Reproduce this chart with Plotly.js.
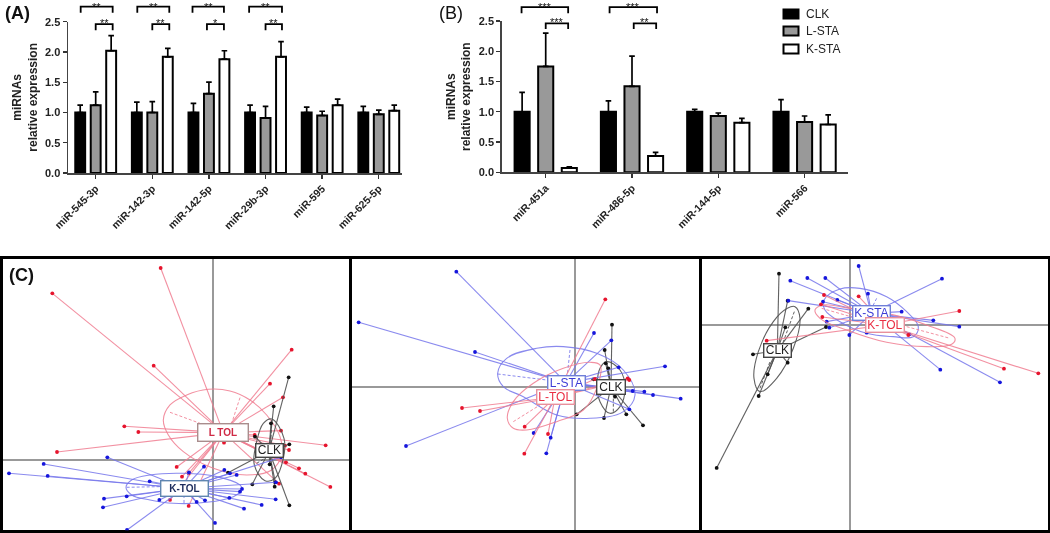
<!DOCTYPE html>
<html>
<head>
<meta charset="utf-8">
<script src="https://cdn.plot.ly/plotly-3.0.1.min.js"></script>
<style>html,body{margin:0;padding:0;background:#fff}#chart{width:1050px;height:533px;filter:blur(0.45px)}</style>
</head>
<body>
<div id="chart"></div>
<script>
// ---------- Panels A and B: relative expression ----------
const groupNames = ['CLK', 'L-STA', 'K-STA'];
const aCategories = ['miR-545-3p', 'miR-142-3p', 'miR-142-5p', 'miR-29b-3p', 'miR-595', 'miR-625-5p'];
const aClk = [1.0, 1.0, 1.0, 1.0, 1.0, 1.0];
const aClkErr = [0.12, 0.17, 0.15, 0.12, 0.09, 0.10];
const aLsta = [1.12, 1.0, 1.31, 0.91, 0.95, 0.97];
const aLstaErr = [0.22, 0.18, 0.19, 0.19, 0.07, 0.07];
const aKsta = [2.02, 1.92, 1.88, 1.92, 1.12, 1.03];
const aKstaErr = [0.25, 0.14, 0.14, 0.25, 0.10, 0.09];

const bCategories = ['miR-451a', 'miR-486-5p', 'miR-144-5p', 'miR-566'];
const bClk = [1.0, 1.0, 1.0, 1.0];
const bClkErr = [0.32, 0.18, 0.04, 0.20];
const bLsta = [1.75, 1.42, 0.93, 0.83];
const bLstaErr = [0.55, 0.50, 0.05, 0.10];
const bKsta = [0.07, 0.27, 0.82, 0.79];
const bKstaErr = [0.02, 0.06, 0.07, 0.16];

// significance brackets: [from, to] in category units, height in expression units
const aUpperStart = [-0.265, -0.265, -0.29, -0.29];
const aUpperEnd = [0.30, 0.30, 0.265, 0.29];
const aLowerStart = [0, 0, -0.035, 0];
const aLowerEnd = [0.30, 0.30, 0.265, 0.29];
const aUpperStars = ['**', '**', '**', '**'];
const aLowerStars = ['**', '**', '*', '**'];
const bUpperStart = [-0.28, -0.26];
const bUpperEnd = [0.26, 0.29];
const bLowerStart = [0, 0.02];
const bLowerEnd = [0.26, 0.28];
const bUpperStars = ['***', '***'];
const bLowerStars = ['***', '**'];

// ---------- Panel C: score plots (first two axes, arbitrary units) ----------
// left plot
const c1RedX = [-158,-483,-179,-267,-225,-469,235,170,209,203,124,32,337,227,215,218,257,276,351,197,-110,-94,-74,-130,-74];
const c1RedY = [575,499,282,100,83,23,330,228,187,87,74,51,43,29,42,-8,-26,-42,-82,-72,-22,-51,-41,-121,-139];
const c1RedMean = [30, 81];
const c1BlueX = [-318,-509,-613,-497,-191,-328,-260,-331,-162,-259,-73,-28,33,50,70,80,86,48,187,145,92,5,-50,-25,188,203];
const c1BlueY = [7,-13,-41,-49,-65,-117,-110,-143,-121,-211,-38,-21,-31,-41,-46,-96,-88,-115,-119,-136,-147,-190,-127,-122,-68,7];
const c1BlueMean = [-88, -86];
const c1BlackX = [226,181,173,125,228,44,117,184,228,186,169];
const c1BlackY = [247,160,109,69,46,-39,-74,-81,-137,-68,-14];
const c1BlackMean = [167, 26];
const c1RedRingX = [-150,-130,-80,-15,50,110,160,200,205,175,100,0,-90,-135,-150];
const c1RedRingY = [119,164,194,211,206,179,134,69,14,-31,-46,-26,24,74,119];
const c1BlueRingX = [-262,-245,-190,-90,10,80,86,60,-20,-120,-190,-245,-262];
const c1BlueRingY = [-83,-61,-46,-41,-51,-76,-91,-111,-128,-131,-121,-106,-83];
const c1BlackRingX = [175,212,210,185,155,123,130,150,175];
const c1BlackRingY = [122,64,4,-56,-63,-16,54,109,122];
const c1RedAxisX = [-130,-40,null,80,55];
const c1RedAxisY = [142,109,null,186,109];
const c1BlueAxisX = [-260,-160,null,-88,-88];
const c1BlueAxisY = [-83,-81,null,-106,-131];
const c1BlackAxisX = [175,172,null,130,155];
const c1BlackAxisY = [119,39,null,-11,4];

// middle plot
const c2BlueX = [-357,-650,-301,-508,56,108,130,269,-125,-74,-87,316,233,207,172,162];
const c2BlueY = [346,194,105,-177,162,140,59,62,-138,-152,-199,-35,-24,-14,-12,-67];
const c2BlueMean = [-28, 13];
const c2RedX = [90,-340,-286,-152,-82,-153,157,162,59];
const c2RedY = [263,-63,-72,-119,-141,-200,26,21,24];
const c2RedMean = [-61, -31];
const c2BlackX = [110,88,91,99,54,4,86,153,203,119];
const c2BlackY = [187,111,71,56,23,-82,-93,-82,-115,-29];
const c2BlackMean = [107, 0];
const c2BlueRingX = [-233,-206,-116,-36,64,144,179,144,44,-56,-156,-216,-233];
const c2BlueRingY = [41,86,116,121,101,51,-24,-74,-94,-84,-29,1,41];
const c2RedRingX = [74,44,-36,-126,-186,-204,-186,-146,-56,24,64,74];
const c2RedRingY = [66,74,56,11,-44,-94,-124,-129,-104,-69,-4,66];
const c2BlackRingX = [94,134,149,134,104,74,66,74,94];
const c2BlackRingY = [76,51,-4,-59,-79,-44,6,56,76];
const c2BlueAxisX = [-233,-86,null,-16,-24];
const c2BlueAxisY = [39,21,null,111,36];
const c2RedAxisX = [-186,-106];
const c2RedAxisY = [-104,-54];
const c2BlackAxisX = [94,104,null,114,114];
const c2BlackAxisY = [71,21,null,-74,-24];

// right plot
const c3BlueX = [26,-128,-74,-179,276,54,-38,-185,-81,155,250,328,-70,-62,-2,50,178,271,450];
const c3BlueY = [176,140,140,132,138,93,74,72,69,39,13,-6,9,-9,-31,-24,-29,-135,-173];
const c3BlueMean = [64, 34];
const c3RedX = [26,-78,-87,-83,328,462,565,-250,175];
const c3RedY = [85,89,61,23,41,-132,-146,-48,-31];
const c3RedMean = [105, -1];
const c3BlackX = [-213,-187,-125,-194,-72,-291,-187,-247,-274,-400];
const c3BlackY = [153,72,48,-8,-7,-89,-114,-149,-214,-430];
const c3BlackMean = [-218, -77];
const c3BlueRingX = [-78,-30,30,110,170,205,190,130,50,-30,-75,-78];
const c3BlueRingY = [74,107,109,84,39,-6,-36,-36,-26,9,44,74];
const c3RedRingX = [-105,-80,0,110,230,315,305,230,110,-10,-90,-105];
const c3RedRingY = [44,59,49,34,-1,-41,-59,-66,-53,-16,19,44];
const c3BlackRingX = [-165,-150,-170,-220,-270,-288,-275,-230,-188,-165];
const c3BlackRingY = [54,19,-71,-161,-201,-161,-81,9,49,54];
const c3BlueAxisX = [80,70];
const c3BlueAxisY = [79,59];
const c3RedAxisX = [170,300,null,-85,20];
const c3RedAxisY = [-6,-41,null,49,19];
const c3BlackAxisX = [-167,-200,null,-270,-240];
const c3BlackAxisY = [39,-51,null,-191,-111];

// ---------- Styling ----------
const W = 1050, H = 533;
const SANS = 'Liberation Sans, Arial, sans-serif';
const FILL = ['#000000', '#999999', '#ffffff'];
const LINE = {red: 'rgba(240,125,145,0.85)', blue: 'rgba(118,118,235,0.85)', black: 'rgba(80,80,80,0.9)'};
const DOT = {red: '#e6142d', blue: '#1616dc', black: '#111111'};
const BOX = {red: '#e8909c', blue: '#6f7fd8', black: '#444444', navy: '#5f86b0', brown: '#a98d8d'};
const INK = {red: '#ea2f44', blue: '#3c3cd6', black: '#222222', navy: '#1c2c5c', crimson: '#cf2a45'};

const domX = (a, b) => [a / W, b / W];
const domY = (top, bottom) => [1 - bottom / H, 1 - top / H];

const traces = [];
const annotations = [];
const shapes = [];

function barGroup(cats, series, errs, xa, ya) {
  series.forEach((vals, i) => {
    traces.push({
      type: 'bar', name: groupNames[i], showlegend: false,
      x: cats.map((_, k) => k), y: vals, xaxis: xa, yaxis: ya,
      marker: {color: FILL[i], line: {color: '#000', width: 2}},
      error_y: {type: 'data', symmetric: false, array: errs[i], arrayminus: cats.map(() => 0), color: '#000', thickness: 1.7, width: 2.8},
      hoverinfo: 'skip'
    });
  });
}
function brackets(starts, ends, top, leg, stars, xa, ya, starLift) {
  const xs = [], ys = [];
  starts.forEach((s, i) => {
    xs.push(i + s, i + s, i + ends[i], i + ends[i], null);
    ys.push(leg, top, top, leg, null);
    annotations.push({
      xref: xa, yref: ya, x: i + (s + ends[i]) / 2, y: top, yshift: starLift, showarrow: false, borderpad: 0,
      text: stars[i], font: {family: SANS, size: 11, color: '#111'}, xanchor: 'center', yanchor: 'middle'
    });
  });
  traces.push({
    type: 'scatter', mode: 'lines', x: xs, y: ys, xaxis: xa, yaxis: ya,
    showlegend: false, hoverinfo: 'skip', line: {color: '#000', width: 1.8}
  });
}
function spokes(xs, ys, mean) {
  const ox = [], oy = [];
  xs.forEach((v, i) => { ox.push(mean[0], v, null); oy.push(mean[1], ys[i], null); });
  return [ox, oy];
}
function cloud(xs, ys, mean, ringX, ringY, dashX, dashY, tone, xa, ya) {
  const plain = {type: 'scatter', xaxis: xa, yaxis: ya, showlegend: false, hoverinfo: 'skip'};
  traces.push(Object.assign({}, plain, {mode: 'lines', x: ringX, y: ringY, line: {color: LINE[tone], width: 1.1, shape: 'spline', smoothing: 1.1}}));
  traces.push(Object.assign({}, plain, {mode: 'lines', x: dashX, y: dashY, line: {color: LINE[tone], width: 1, dash: '3px,2px'}}));
  const [sx, sy] = spokes(xs, ys, mean);
  traces.push(Object.assign({}, plain, {mode: 'lines', x: sx, y: sy, line: {color: LINE[tone], width: 1.1}}));
  traces.push(Object.assign({}, plain, {mode: 'markers', x: xs, y: ys, marker: {color: DOT[tone], size: 3.8}}));
}
function tag(text, xa, ya, mean, w, h, ink, box, size, bold) {
  annotations.push({
    xref: xa, yref: ya, x: mean[0], y: mean[1], showarrow: false, text: bold ? '<b>' + text + '</b>' : text,
    width: w, height: h, bgcolor: '#ffffff', bordercolor: box, borderwidth: 1.4, borderpad: 0,
    font: {family: SANS, size: size, color: ink}, align: 'center', valign: 'middle'
  });
}

barGroup(aCategories, [aClk, aLsta, aKsta], [aClkErr, aLstaErr, aKstaErr], 'x', 'y');
barGroup(bCategories, [bClk, bLsta, bKsta], [bClkErr, bLstaErr, bKstaErr], 'x2', 'y2');
// brackets sit on hidden axes with the same scale as the bars, reaching above the 2.5 tick
brackets(aUpperStart, aUpperEnd, 2.75, 2.65, aUpperStars, 'x', 'y6', 0);
brackets(aLowerStart, aLowerEnd, 2.46, 2.36, aLowerStars, 'x', 'y6', 1);
brackets(bUpperStart, bUpperEnd, 2.73, 2.63, bUpperStars, 'x2', 'y7', 0);
brackets(bLowerStart, bLowerEnd, 2.46, 2.37, bLowerStars, 'x2', 'y7', 1);

cloud(c1RedX, c1RedY, c1RedMean, c1RedRingX, c1RedRingY, c1RedAxisX, c1RedAxisY, 'red', 'x3', 'y3');
cloud(c1BlackX, c1BlackY, c1BlackMean, c1BlackRingX, c1BlackRingY, c1BlackAxisX, c1BlackAxisY, 'black', 'x3', 'y3');
cloud(c1BlueX, c1BlueY, c1BlueMean, c1BlueRingX, c1BlueRingY, c1BlueAxisX, c1BlueAxisY, 'blue', 'x3', 'y3');
cloud(c2BlackX, c2BlackY, c2BlackMean, c2BlackRingX, c2BlackRingY, c2BlackAxisX, c2BlackAxisY, 'black', 'x4', 'y4');
cloud(c2BlueX, c2BlueY, c2BlueMean, c2BlueRingX, c2BlueRingY, c2BlueAxisX, c2BlueAxisY, 'blue', 'x4', 'y4');
cloud(c2RedX, c2RedY, c2RedMean, c2RedRingX, c2RedRingY, c2RedAxisX, c2RedAxisY, 'red', 'x4', 'y4');
cloud(c3BlackX, c3BlackY, c3BlackMean, c3BlackRingX, c3BlackRingY, c3BlackAxisX, c3BlackAxisY, 'black', 'x5', 'y5');
cloud(c3BlueX, c3BlueY, c3BlueMean, c3BlueRingX, c3BlueRingY, c3BlueAxisX, c3BlueAxisY, 'blue', 'x5', 'y5');
cloud(c3RedX, c3RedY, c3RedMean, c3RedRingX, c3RedRingY, c3RedAxisX, c3RedAxisY, 'red', 'x5', 'y5');

tag('L TOL', 'x3', 'y3', c1RedMean, 49, 16, INK.crimson, BOX.brown, 10, true);
tag('K-TOL', 'x3', 'y3', c1BlueMean, 46, 14, INK.navy, BOX.navy, 10, true);
tag('CLK', 'x3', 'y3', c1BlackMean, 26, 12, INK.black, BOX.black, 12, false);
tag('L-STA', 'x4', 'y4', c2BlueMean, 36, 13, INK.blue, BOX.blue, 12, false);
tag('L-TOL', 'x4', 'y4', c2RedMean, 36, 13, INK.red, BOX.red, 12, false);
tag('CLK', 'x4', 'y4', c2BlackMean, 27, 13, INK.black, BOX.black, 12, false);
tag('K-STA', 'x5', 'y5', c3BlueMean, 36, 13, INK.blue, BOX.blue, 12, false);
tag('K-TOL', 'x5', 'y5', c3RedMean, 37, 13, INK.red, BOX.red, 12, false);
tag('CLK', 'x5', 'y5', c3BlackMean, 26, 12, INK.black, BOX.black, 12, false);

[['(A)', 17, 13, true], ['(B)', 451, 13, false], ['(C)', 21, 275, true]].forEach(([t, px, py, bold]) => {
  annotations.push({
    xref: 'paper', yref: 'paper', x: px / W, y: 1 - py / H, showarrow: false,
    text: bold ? '<b>' + t + '</b>' : t, font: {family: SANS, size: 18, color: '#111'}, xanchor: 'center', yanchor: 'middle'
  });
});

// key beside panel B
groupNames.forEach((name, i) => {
  const cy = [14, 31, 49][i];
  shapes.push({
    type: 'rect', xref: 'paper', yref: 'paper', x0: 783.5 / W, x1: 798.5 / W, y0: 1 - (cy + 4.5) / H, y1: 1 - (cy - 4.5) / H,
    fillcolor: FILL[i], line: {color: '#000', width: 2}
  });
  annotations.push({
    xref: 'paper', yref: 'paper', x: 805 / W, y: 1 - cy / H, showarrow: false, text: name,
    font: {family: SANS, size: 12, color: '#222'}, xanchor: 'left', yanchor: 'middle', xshift: -1
  });
});

function barX(range, dom, cats) {
  return {
    domain: dom, range: range, tickmode: 'array', tickvals: cats.map((_, k) => k), ticktext: cats,
    tickangle: -45, ticks: 'outside', ticklen: 4, tickwidth: 1.4, tickcolor: '#333', showgrid: false, zeroline: false,
    showline: true, linecolor: '#444', linewidth: 1.5,
    tickfont: {family: SANS, size: 10.5, color: '#222', weight: 700}
  };
}
function barY(dom, anchor) {
  return {
    domain: dom, range: [0, 2.5], anchor: anchor, tickvals: [0, 0.5, 1, 1.5, 2, 2.5], ticktext: ['0.0', '0.5', '1.0', '1.5', '2.0', '2.5'],
    ticks: 'outside', ticklen: 4, tickwidth: 1.4, tickcolor: '#333', showgrid: false, zeroline: false,
    showline: true, linecolor: '#444', linewidth: 1.5,
    tickfont: {family: SANS, size: 11, color: '#222', weight: 700},
    title: {text: 'miRNAs<br>relative expression', standoff: 5, font: {family: SANS, size: 12, color: '#222', weight: 700}}
  };
}
function hiddenY(dom, range, anchor) {
  return {domain: dom, range: range, anchor: anchor, visible: false, fixedrange: true};
}
function frameAxis(dom, range, anchor) {
  return {
    domain: dom, range: range, anchor: anchor, showticklabels: false, ticks: '', showgrid: false,
    zeroline: true, zerolinecolor: '#999999', zerolinewidth: 2,
    showline: true, mirror: true, linecolor: '#000', linewidth: 3.5, layer: 'below traces'
  };
}

const layout = {
  width: W, height: H, margin: {l: 0, r: 0, t: 0, b: 0}, paper_bgcolor: '#fff', plot_bgcolor: 'rgba(0,0,0,0)',
  showlegend: false, barmode: 'group', bargap: 0.18, bargroupgap: 0.36,
  annotations: annotations, shapes: shapes,
  xaxis: barX([-0.489, 5.41], domX(68, 402), aCategories),
  yaxis: barY(domY(21.7, 173), 'x'),
  xaxis2: Object.assign(barX([-0.51, 3.503], domX(501.7, 848), bCategories), {anchor: 'y2'}),
  yaxis2: barY(domY(21, 172.3), 'x2'),
  xaxis3: frameAxis(domX(3, 348.5), [-631, 405.5], 'y3'),
  yaxis3: frameAxis(domY(259, 530.3), [-212, 602], 'x3'),
  xaxis4: frameAxis(domX(352, 698.5), [-670, 369.5], 'y4'),
  yaxis4: frameAxis(domY(259, 530.3), [-430, 384], 'x4'),
  xaxis5: frameAxis(domX(702, 1048.3), [-444, 595], 'y5'),
  yaxis5: frameAxis(domY(259, 530.3), [-617, 197], 'x5'),
  yaxis6: hiddenY(domY(0, 173), [0, 2.86], 'x'),
  yaxis7: hiddenY(domY(0, 172.3), [0, 2.848], 'x2')
};
layout.xaxis.anchor = 'y';

Plotly.newPlot('chart', traces, layout, {staticPlot: true, displayModeBar: false});
</script>
</body>
</html>
